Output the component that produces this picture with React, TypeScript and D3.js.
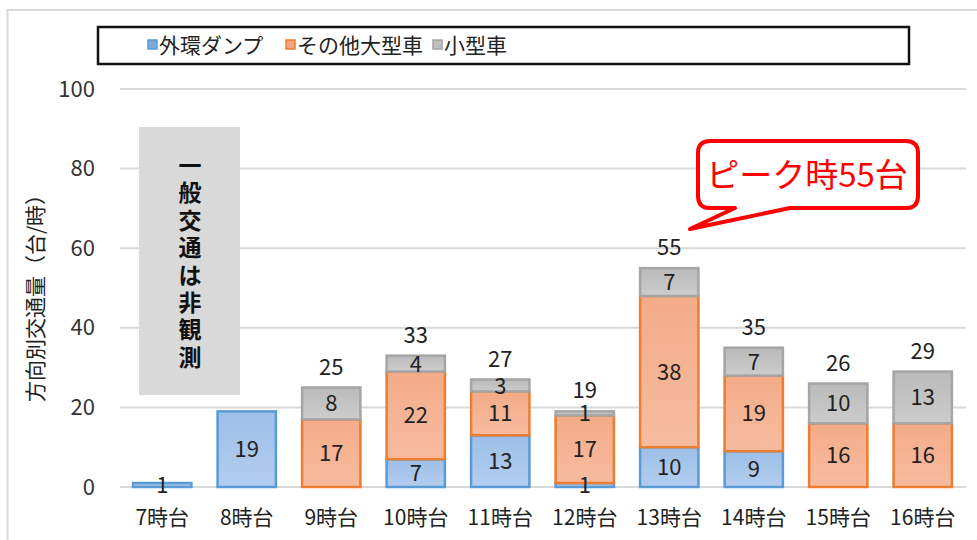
import React from "react";
import * as d3 from "d3";

const categories = ["7時台", "8時台", "9時台", "10時台", "11時台", "12時台", "13時台", "14時台", "15時台", "16時台"];
const dumpValues = [1, 19, 0, 7, 13, 1, 10, 9, 0, 0];
const otherLargeValues = [0, 0, 17, 22, 11, 17, 38, 19, 16, 16];
const smallValues = [0, 0, 8, 4, 3, 1, 7, 7, 10, 13];
const showTotals = [false, false, true, true, true, true, true, true, true, true];
const yTicks = [0, 20, 40, 60, 80, 100];
const seriesNames = ["外環ダンプ", "その他大型車", "小型車"];

const W = 977;
const H = 540;
const FONT = "'Noto Sans CJK JP', 'Noto Sans', sans-serif";

export default function App() {
  const x = d3.scaleBand<string>().domain(categories).range([120, 965]).paddingInner(0.31).paddingOuter(0.155);
  const y = d3.scaleLinear().domain([0, 100]).range([487, 89]);

  const series = [
    { name: seriesNames[0], values: dumpValues, fill: "url(#gBlue)", stroke: "#5b9bd5" },
    { name: seriesNames[1], values: otherLargeValues, fill: "url(#gOrange)", stroke: "#ed7d31" },
    { name: seriesNames[2], values: smallValues, fill: "url(#gGray)", stroke: "#a5a5a5" },
  ];

  const segments: any[] = [];
  categories.forEach((c, i) => {
    let base = 0;
    series.forEach((s, si) => {
      const v = s.values[i];
      if (v > 0) {
        segments.push({ c, i, si, v, y0: base, y1: base + v, fill: s.fill, stroke: s.stroke });
      }
      base += v;
    });
  });

  const totals = categories.map((_, i) => dumpValues[i] + otherLargeValues[i] + smallValues[i]);

  const legendItems = [
    { x: 152, color: "#7fa9d9", stroke: "#5b9bd5", label: seriesNames[0] },
    { x: 290, color: "#f4a582", stroke: "#ed7d31", label: seriesNames[1] },
    { x: 437, color: "#bfbfbf", stroke: "#a5a5a5", label: seriesNames[2] },
  ];

  const vertText = "一般交通は非観測".split("");

  return (
    <svg width={W} height={H} style={{ position: "absolute", left: 0, top: 0 }} fontFamily={FONT}>
      <defs>
        <linearGradient id="gBlue" x1="0" y1="0" x2="0" y2="1">
          <stop offset="0" stopColor="#9dbfe8" />
          <stop offset="1" stopColor="#b3cdee" />
        </linearGradient>
        <linearGradient id="gOrange" x1="0" y1="0" x2="0" y2="1">
          <stop offset="0" stopColor="#f4ab88" />
          <stop offset="1" stopColor="#f6bca0" />
        </linearGradient>
        <linearGradient id="gGray" x1="0" y1="0" x2="0" y2="1">
          <stop offset="0" stopColor="#bababa" />
          <stop offset="1" stopColor="#cccccc" />
        </linearGradient>
      </defs>
      <rect x={0} y={0} width={W} height={H} fill="#ffffff" />
      {/* outer frame */}
      <rect x={7.5} y={10} width={W + 10} height={H + 10} fill="none" stroke="#d9d9d9" strokeWidth={2} />

      {/* legend */}
      <rect x={98} y={27} width={811} height={37} fill="#fff" stroke="#111" strokeWidth={2.5} />
      {legendItems.map((l) => (
        <g key={l.label}>
          <rect x={l.x - 4} y={40} width={9} height={9} fill={l.color} stroke={l.stroke} strokeWidth={1.5} />
          <text x={l.x + 7} y={53} fontSize={21} fill="#222">{l.label}</text>
        </g>
      ))}

      {/* gridlines */}
      {yTicks.map((t) => (
        <g key={t}>
          <line x1={120} x2={966} y1={y(t)} y2={y(t)} stroke="#d9d9d9" strokeWidth={2} />
          <text x={95} y={y(t) + 7.5} textAnchor="end" fontSize={22} fill="#333">{t}</text>
        </g>
      ))}

      {/* y title */}
      <text transform={`translate(43,${293}) rotate(-90)`} textAnchor="middle" fontSize={21} fill="#222">方向別交通量（台/時）</text>

      {/* gray non-observation box */}
      <rect x={139} y={127} width={101} height={268} fill="#d9d9d9" />
      {vertText.map((ch, k) => (
        <text key={k} x={190} y={174 + k * 27.4} textAnchor="middle" fontSize={23} fontWeight={700} fill="#111">{ch}</text>
      ))}

      {/* bars */}
      {segments.map((s, k) => (
        <rect key={k} x={x(s.c)!} y={y(s.y1)} width={x.bandwidth()} height={y(s.y0) - y(s.y1)} fill={s.fill} stroke={s.stroke} strokeWidth={2.5} />
      ))}
      {segments.map((s, k) => (
        <text key={"t" + k} x={x(s.c)! + x.bandwidth() / 2} y={(y(s.y0) + y(s.y1)) / 2 + 8} textAnchor="middle" fontSize={22} fill="#222">{s.v}</text>
      ))}
      {categories.map((c, i) => showTotals[i] ? (
        <text key={"tot" + i} x={x(c)! + x.bandwidth() / 2} y={y(totals[i]) - 13} textAnchor="middle" fontSize={22} fill="#222">{totals[i]}</text>
      ) : null)}

      {/* x labels */}
      {categories.map((c) => (
        <text key={c} x={x(c)! + x.bandwidth() / 2} y={525} textAnchor="middle" fontSize={21} fill="#222">{c}</text>
      ))}

      {/* callout */}
      <path d="M710,141 H906 Q918,141 918,153 V196 Q918,208 906,208 H790 L690,229 L735,208 H710 Q698,208 698,196 V153 Q698,141 710,141 Z"
        fill="#fff" stroke="#ff0000" strokeWidth={4} strokeLinejoin="round" />
      <text x={807} y={187} textAnchor="middle" fontSize={33} fill="#ff0000">ピーク時55台</text>
    </svg>
  );
}
